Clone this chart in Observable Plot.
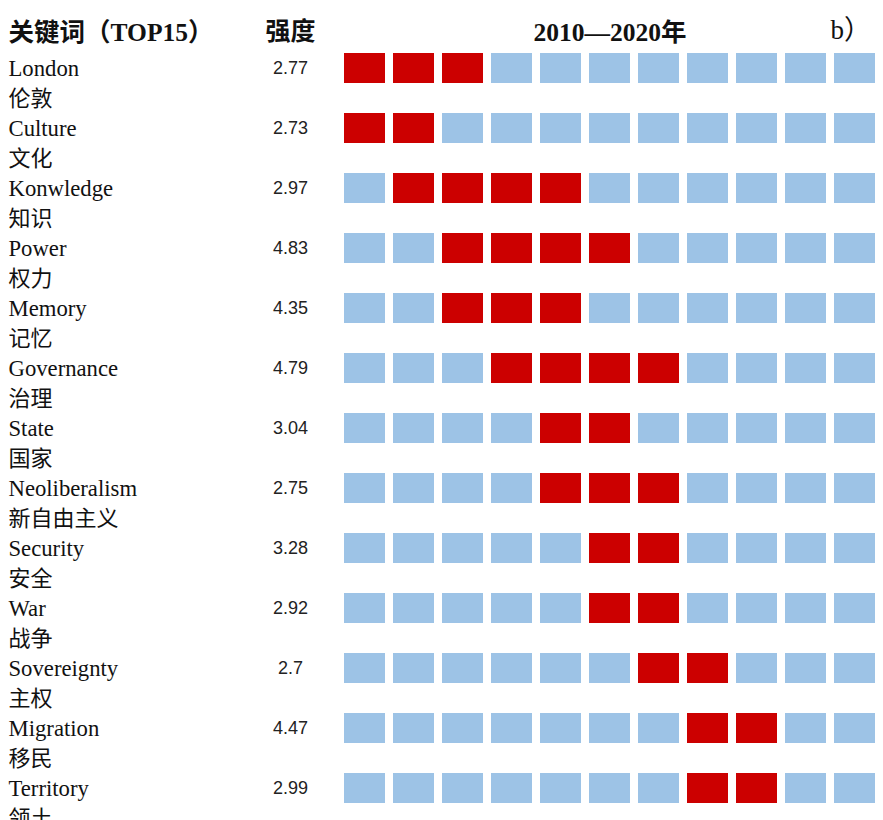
<!DOCTYPE html>
<html>
<head>
<meta charset="utf-8">
<script src="https://cdn.jsdelivr.net/npm/d3@7"></script>
<script src="https://cdn.jsdelivr.net/npm/@observablehq/plot@0.6"></script>
<style>
  html, body { margin: 0; padding: 0; background: #fff; overflow: hidden; }
  #chart svg { display: block; overflow: visible; }
</style>
</head>
<body>
<div id="chart"></div>
<script>
const keywords = ["London","Culture","Konwledge","Power","Memory","Governance","State","Neoliberalism","Security","War","Sovereignty","Migration","Territory"];
const keywordsZh = ["伦敦","文化","知识","权力","记忆","治理","国家","新自由主义","安全","战争","主权","移民","领土"];
const strength = [2.77, 2.73, 2.97, 4.83, 4.35, 4.79, 3.04, 2.75, 3.28, 2.92, 2.7, 4.47, 2.99];
const beginYear = [2010, 2010, 2011, 2012, 2012, 2013, 2014, 2014, 2015, 2015, 2016, 2017, 2017];
const endYear   = [2012, 2011, 2014, 2015, 2014, 2016, 2015, 2016, 2016, 2016, 2017, 2018, 2018];
const years = [2010, 2011, 2012, 2013, 2014, 2015, 2016, 2017, 2018, 2019, 2020];

const headerLeft = "关键词（TOP15）";
const headerMid = "强度";
const headerYears = "2010—2020年";
const panelTag = "b）";

const rows = keywords.map((k, i) => ({k, zh: keywordsZh[i], s: strength[i], b: beginYear[i], e: endYear[i]}));
const cells = rows.flatMap(r => years.map(y => ({k: r.k, year: y, burst: y >= r.b && y <= r.e})));

const serif = "'Liberation Serif', 'Times New Roman', 'Noto Sans CJK SC', serif";
const sans = "'Liberation Sans', Arial, sans-serif";

const chart = Plot.plot({
  width: 883,
  height: 820,
  marginLeft: 0, marginRight: 0, marginTop: 0, marginBottom: 0,
  x: {type: "linear", domain: [years[0], years[years.length - 1] + 1], range: [344, 883], axis: null},
  y: {type: "band", domain: keywords, range: [53, 53 + keywords.length * 60], padding: 0, axis: null},
  style: {background: "#fff"},
  marks: [
    Plot.barX(cells, {
      x1: "year", x2: d => d.year + 1, y: "k",
      insetRight: 8, insetBottom: 30,
      fill: d => d.burst ? "#CC0000" : "#9DC3E6"
    }),
    Plot.text(rows, {
      y: "k", text: "k", frameAnchor: "left", dx: 8, dy: -15,
      textAnchor: "start", fontSize: 22.7, fontFamily: serif, fill: "#111"
    }),
    Plot.text(rows, {
      y: "k", text: "zh", frameAnchor: "left", dx: 8, dy: 15,
      textAnchor: "start", fontSize: 22, fontFamily: serif, fill: "#111"
    }),
    Plot.text(rows, {
      y: "k", text: d => String(d.s), frameAnchor: "left", dx: 290, dy: -15,
      textAnchor: "middle", fontSize: 18, fontFamily: sans, fill: "#222"
    }),
    Plot.text([headerLeft], {
      text: d => d, frameAnchor: "top-left", dx: 8, dy: 22,
      textAnchor: "start", fontSize: 25.5, fontWeight: "bold", fontFamily: serif, fill: "#111"
    }),
    Plot.text([headerMid], {
      text: d => d, frameAnchor: "top-left", dx: 290, dy: 22,
      textAnchor: "middle", fontSize: 25, fontWeight: "bold", fontFamily: serif, fill: "#111"
    }),
    Plot.text([headerYears], {
      x: () => (years[0] + years[years.length - 1] + 1) / 2, text: d => d,
      frameAnchor: "top", dx: -4, dy: 22,
      textAnchor: "middle", fontSize: 25.5, fontWeight: "bold", fontFamily: serif, fill: "#111"
    }),
    Plot.text([panelTag], {
      text: d => d, frameAnchor: "top-left", dx: 830, dy: 19,
      textAnchor: "start", fontSize: 27, fontFamily: serif, fill: "#111"
    })
  ]
});
document.getElementById("chart").appendChild(chart);
</script>
</body>
</html>
